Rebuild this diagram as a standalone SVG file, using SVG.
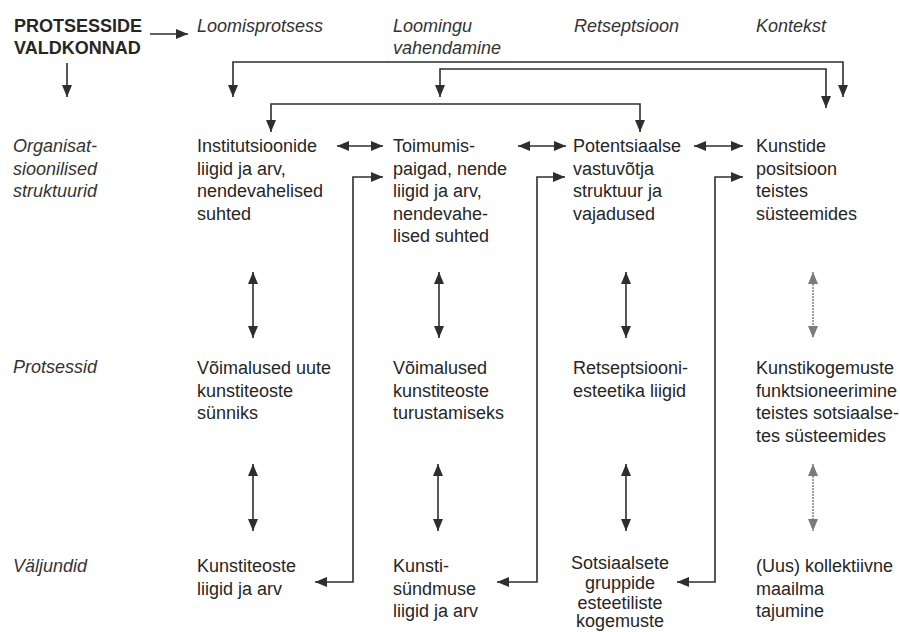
<svg xmlns="http://www.w3.org/2000/svg" width="900" height="632" viewBox="0 0 900 632">
<style>
text{font-family:"Liberation Sans",Arial,sans-serif;font-size:18px;fill:#262626}
.it{font-style:italic;fill:#333}
.b{font-weight:bold}
.c{text-anchor:middle}
.ln{fill:none;stroke:#2e2e2e;stroke-width:1.6}
.lg{fill:none;stroke:#8a8a8a;stroke-width:1.6;stroke-dasharray:2 1}
</style>
<defs>
<marker id="ah" viewBox="0 0 12 10" refX="12" refY="5" markerWidth="13" markerHeight="10" markerUnits="userSpaceOnUse" orient="auto-start-reverse"><path d="M0,0 L12,5 L0,10 z" fill="#2e2e2e"/></marker>
<marker id="ahg" viewBox="0 0 12 10" refX="12" refY="5" markerWidth="13" markerHeight="10" markerUnits="userSpaceOnUse" orient="auto-start-reverse"><path d="M0,0 L12,5 L0,10 z" fill="#7a7a7a"/></marker>
</defs>
<rect width="900" height="632" fill="#fff"/>

<g id="header"><text class="b" x="14" y="32">PROTSESSIDE</text><text class="b" x="14" y="54">VALDKONNAD</text></g>
<g id="col-loomisprotsess"><text class="it" x="197" y="32">Loomisprotsess</text></g>
<g id="col-vahendamine"><text class="it" x="393" y="32">Loomingu</text><text class="it" x="393" y="54">vahendamine</text></g>
<g id="col-retseptsioon"><text class="it" x="574" y="32">Retseptsioon</text></g>
<g id="col-kontekst"><text class="it" x="756" y="32">Kontekst</text></g>

<g id="row-organisatsioonilised"><text class="it" x="13" y="152">Organisat-</text><text class="it" x="13" y="174.5">sioonilised</text><text class="it" x="13" y="197">struktuurid</text></g>
<g id="row-protsessid"><text class="it" x="13" y="373">Protsessid</text></g>
<g id="row-valjundid"><text class="it" x="13" y="572">Väljundid</text></g>

<g id="n11"><text x="197" y="152">Institutsioonide</text><text x="197" y="174.5">liigid ja arv,</text><text x="197" y="197">nendevahelised</text><text x="197" y="219.5">suhted</text></g>
<g id="n12"><text x="393" y="152">Toimumis-</text><text x="393" y="174.5">paigad, nende</text><text x="393" y="197">liigid ja arv,</text><text x="393" y="219.5">nendevahe-</text><text x="393" y="242">lised suhted</text></g>
<g id="n13"><text x="573" y="152">Potentsiaalse</text><text x="573" y="174.5">vastuvõtja</text><text x="573" y="197">struktuur ja</text><text x="573" y="219.5">vajadused</text></g>
<g id="n14"><text x="756" y="152">Kunstide</text><text x="756" y="174.5">positsioon</text><text x="756" y="197">teistes</text><text x="756" y="219.5">süsteemides</text></g>

<g id="n21"><text x="197" y="374">Võimalused uute</text><text x="197" y="396.5">kunstiteoste</text><text x="197" y="419">sünniks</text></g>
<g id="n22"><text x="393" y="374">Võimalused</text><text x="393" y="396.5">kunstiteoste</text><text x="393" y="419">turustamiseks</text></g>
<g id="n23"><text x="573" y="374">Retseptsiooni-</text><text x="573" y="396.5">esteetika liigid</text></g>
<g id="n24"><text x="756" y="374">Kunstikogemuste</text><text x="756" y="396.5">funktsioneerimine</text><text x="756" y="419">teistes sotsiaalse-</text><text x="756" y="441.5">tes süsteemides</text></g>

<g id="n31"><text x="197" y="572">Kunstiteoste</text><text x="197" y="594.5">liigid ja arv</text></g>
<g id="n32"><text x="393" y="572">Kunsti-</text><text x="393" y="594.5">sündmuse</text><text x="393" y="617">liigid ja arv</text></g>
<g id="n33"><text class="c" x="620" y="569">Sotsiaalsete</text><text class="c" x="620" y="589">gruppide</text><text class="c" x="620" y="608.5">esteetiliste</text><text class="c" x="620" y="627">kogemuste</text></g>
<g id="n34"><text x="756" y="572">(Uus) kollektiivne</text><text x="756" y="594.5">maailma</text><text x="756" y="617">tajumine</text></g>

<g id="connectors">
<path class="ln" d="M150,34 H188" marker-end="url(#ah)"/>
<path class="ln" d="M67,63 V97" marker-end="url(#ah)"/>
<path class="ln" d="M233,97 V62 H843 V97" marker-start="url(#ah)" marker-end="url(#ah)"/>
<path class="ln" d="M440,97 V69 H826 V108" marker-start="url(#ah)" marker-end="url(#ah)"/>
<path class="ln" d="M271,132 V104 H640 V132" marker-start="url(#ah)" marker-end="url(#ah)"/>
<path class="ln" d="M337,146 H383" marker-start="url(#ah)" marker-end="url(#ah)"/>
<path class="ln" d="M518,146 H566" marker-start="url(#ah)" marker-end="url(#ah)"/>
<path class="ln" d="M694,146 H743" marker-start="url(#ah)" marker-end="url(#ah)"/>
<path class="ln" d="M315,582 H353 V177 H383" marker-start="url(#ah)" marker-end="url(#ah)"/>
<path class="ln" d="M497,582 H537 V177 H565" marker-start="url(#ah)" marker-end="url(#ah)"/>
<path class="ln" d="M677,582 H715 V177 H743" marker-start="url(#ah)" marker-end="url(#ah)"/>
<path class="ln" d="M253,272 V338" marker-start="url(#ah)" marker-end="url(#ah)"/>
<path class="ln" d="M439,272 V338" marker-start="url(#ah)" marker-end="url(#ah)"/>
<path class="ln" d="M626,272 V338" marker-start="url(#ah)" marker-end="url(#ah)"/>
<path class="lg" d="M813,272 V338" marker-start="url(#ahg)" marker-end="url(#ahg)"/>
<path class="ln" d="M253,464 V531" marker-start="url(#ah)" marker-end="url(#ah)"/>
<path class="ln" d="M438,464 V531" marker-start="url(#ah)" marker-end="url(#ah)"/>
<path class="ln" d="M626,464 V531" marker-start="url(#ah)" marker-end="url(#ah)"/>
<path class="lg" d="M813,464 V531" marker-start="url(#ahg)" marker-end="url(#ahg)"/>
</g>
</svg>
